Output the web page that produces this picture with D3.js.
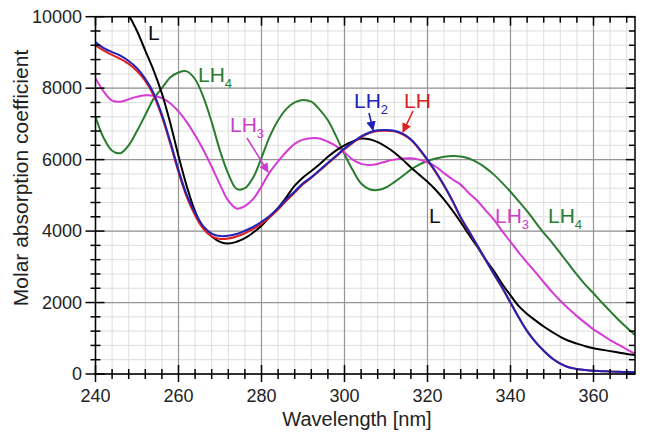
<!DOCTYPE html>
<html><head><meta charset="utf-8">
<script src="https://cdn.jsdelivr.net/npm/d3@7"></script>
<style>body{margin:0;background:#fff}svg{display:block}text{font-family:"Liberation Sans",Arial,sans-serif}</style>
</head><body><svg id="c" width="645" height="435"></svg>
<script>
const wavelengths = [240,242,244,246,248,250,252,254,256,258,260,262,264,266,268,270,272,274,276,278,280,282,284,286,288,290,292,294,296,298,300,302,304,306,308,310,312,314,316,318,320,322,324,326,328,330,332,334,336,338,340,342,344,346,348,350,352,354,356,358,360,362,364,366,368,370];
const seriesL   = [11600,11200,10800,10450,10050,9600,9050,8500,7850,7030,6100,5250,4550,4080,3850,3700,3650,3700,3800,3960,4150,4400,4650,4950,5270,5500,5680,5870,6080,6260,6400,6510,6590,6570,6490,6360,6200,6000,5780,5580,5380,5150,4880,4580,4250,3900,3560,3200,2880,2520,2200,1900,1680,1500,1330,1180,1040,930,850,780,720,680,640,600,560,530];
const seriesLH  = [9200,9050,8930,8820,8680,8480,8200,7800,7200,6450,5650,4950,4440,4060,3850,3780,3790,3850,3940,4060,4210,4390,4600,4850,5080,5310,5490,5690,5890,6090,6290,6470,6630,6740,6800,6810,6790,6710,6550,6290,5980,5640,5260,4840,4370,3980,3590,3190,2790,2410,1990,1580,1200,900,650,440,290,190,140,110,90,80,70,60,55,50];
const seriesLH2 = [9280,9120,9010,8910,8760,8560,8260,7860,7260,6510,5710,5010,4510,4130,3930,3860,3870,3920,4010,4120,4260,4430,4640,4890,5110,5340,5510,5710,5910,6110,6310,6490,6650,6760,6820,6830,6810,6730,6570,6310,6000,5660,5280,4860,4390,4000,3600,3200,2800,2420,2000,1580,1200,900,650,440,290,190,140,110,90,80,70,60,55,50];
const seriesLH3 = [8280,7900,7650,7620,7690,7760,7800,7790,7720,7580,7350,7050,6680,6270,5800,5300,4850,4630,4700,4900,5250,5650,5950,6220,6440,6560,6600,6590,6500,6380,6200,6000,5880,5850,5880,5950,6000,6030,6040,6000,5920,5800,5620,5450,5300,5060,4850,4580,4320,4000,3700,3400,3120,2850,2570,2300,2050,1830,1620,1430,1250,1100,950,820,690,560];
const seriesLH4 = [7200,6600,6250,6180,6400,6800,7250,7700,8000,8300,8440,8470,8250,7750,7050,6250,5600,5180,5200,5500,6050,6650,7100,7420,7600,7670,7620,7400,7100,6650,6150,5700,5330,5170,5150,5220,5370,5540,5720,5860,5960,6030,6080,6100,6090,6030,5920,5770,5580,5350,5100,4830,4560,4250,3950,3680,3380,3080,2780,2500,2260,2000,1760,1520,1300,1090];
const xTicks = [240,260,280,300,320,340,360];
const yTicks = [0,2000,4000,6000,8000,10000];
const xLabel = "Wavelength [nm]";
const yLabel = "Molar absorption coefficient";

const svg = d3.select("#c");
const L = 95.5, R = 635, T = 16.7, B = 374;
const x = d3.scaleLinear().domain([240,370]).range([L,R]);
const y = d3.scaleLinear().domain([0,10000]).range([B,T]);

// grid
const minorX = d3.range(240,371,4), minorY = d3.range(0,10001,400);
const g = svg.append("g");
g.selectAll(".mx").data(minorX).enter().append("line")
  .attr("x1",d=>x(d)).attr("x2",d=>x(d)).attr("y1",T).attr("y2",B)
  .attr("stroke","#dedede").attr("stroke-width",1);
g.selectAll(".my").data(minorY).enter().append("line")
  .attr("y1",d=>y(d)).attr("y2",d=>y(d)).attr("x1",L).attr("x2",R)
  .attr("stroke","#dedede").attr("stroke-width",1);
g.selectAll(".Mx").data(xTicks).enter().append("line")
  .attr("x1",d=>x(d)).attr("x2",d=>x(d)).attr("y1",T).attr("y2",B)
  .attr("stroke","#959595").attr("stroke-width",1.2);
g.selectAll(".My").data(yTicks).enter().append("line")
  .attr("y1",d=>y(d)).attr("y2",d=>y(d)).attr("x1",L).attr("x2",R)
  .attr("stroke","#959595").attr("stroke-width",1.2);

// curves
svg.append("clipPath").attr("id","clip").append("rect").attr("x",L).attr("y",T).attr("width",R-L).attr("height",B-T);
const line = d3.line().x((d,i)=>x(wavelengths[i])).y(d=>y(d)).curve(d3.curveCatmullRom);
const series = [
  {v:seriesLH4,c:"#2a7d2e"},
  {v:seriesLH3,c:"#d63ad6"},
  {v:seriesL,c:"#000000"},
  {v:seriesLH,c:"#dd2020"},
  {v:seriesLH2,c:"#2222b8"}
];
const cg = svg.append("g").attr("clip-path","url(#clip)");
series.forEach(s=>{
  cg.append("path").attr("d",line(s.v)).attr("fill","none").attr("stroke",s.c).attr("stroke-width",2);
});

// frame and ticks
svg.append("rect").attr("x",L).attr("y",T).attr("width",R-L).attr("height",B-T).attr("fill","none").attr("stroke","#000").attr("stroke-width",1.5);
const minorXT = minorX.filter(d=>d%20!==0), minorYT = minorY.filter(d=>d%2000!==0);
const tk = svg.append("g").attr("stroke","#000").attr("stroke-width",1.5);
xTicks.forEach(d=>tk.append("line").attr("x1",x(d)).attr("x2",x(d)).attr("y1",B-9).attr("y2",B+8));
minorXT.forEach(d=>tk.append("line").attr("x1",x(d)).attr("x2",x(d)).attr("y1",B-5).attr("y2",B+5));
xTicks.forEach(d=>tk.append("line").attr("x1",x(d)).attr("x2",x(d)).attr("y1",T).attr("y2",T+9));
minorXT.forEach(d=>tk.append("line").attr("x1",x(d)).attr("x2",x(d)).attr("y1",T).attr("y2",T+6));
yTicks.forEach(d=>tk.append("line").attr("y1",y(d)).attr("y2",y(d)).attr("x1",L-10).attr("x2",L+9));
minorYT.forEach(d=>tk.append("line").attr("y1",y(d)).attr("y2",y(d)).attr("x1",L-5).attr("x2",L+5));
yTicks.forEach(d=>tk.append("line").attr("y1",y(d)).attr("y2",y(d)).attr("x1",R-9).attr("x2",R));
minorYT.forEach(d=>tk.append("line").attr("y1",y(d)).attr("y2",y(d)).attr("x1",R-6).attr("x2",R));

// tick labels
svg.selectAll(".xl").data(xTicks).enter().append("text")
  .attr("x",d=>x(d)).attr("y",402).attr("text-anchor","middle").attr("font-size",18).attr("fill","#222").text(d=>d);
svg.selectAll(".yl").data(yTicks).enter().append("text")
  .attr("x",82).attr("y",d=>y(d)+6).attr("text-anchor","end").attr("font-size",18).attr("fill","#222").text(d=>d);
svg.append("text").attr("x",357).attr("y",426).attr("text-anchor","middle").attr("font-size",20).attr("fill","#222").text(xLabel);
svg.append("text").attr("transform","translate(28,178) rotate(-90)").attr("text-anchor","middle").attr("font-size",21).attr("fill","#222").text(yLabel);

// annotations
function lab(xp,yp,main,sub,color){
  const t = svg.append("text").attr("x",xp).attr("y",yp).attr("font-size",21).attr("fill",color);
  t.append("tspan").text(main);
  if(sub) t.append("tspan").attr("font-size",13).attr("dy",6).text(sub);
}
lab(148,40,"L","","#111");
lab(198,82,"LH","4","#2a7d2e");
lab(230,132,"LH","3","#cc3fcc");
lab(354,108,"LH","2","#2222b8");
lab(404,108,"LH","","#dd2020");
lab(429,223,"L","","#111");
lab(495,223,"LH","3","#cc3fcc");
lab(548,223,"LH","4","#2a7d2e");

svg.append("defs").selectAll("marker").data([["mM","#cc3fcc"],["mB","#2222b8"],["mR","#dd2020"]]).enter().append("marker")
  .attr("id",d=>d[0]).attr("viewBox","0 0 10 10").attr("refX",9).attr("refY",5).attr("markerWidth",6).attr("markerHeight",6).attr("orient","auto")
  .append("path").attr("d","M0,0L10,5L0,10z").attr("fill",d=>d[1]);
function arrow(x1,y1,x2,y2,id,color){
  svg.append("line").attr("x1",x1).attr("y1",y1).attr("x2",x2).attr("y2",y2).attr("stroke",color).attr("stroke-width",1.6).attr("marker-end","url(#"+id+")");
}
arrow(247,138,268,172,"mM","#cc3fcc");
arrow(369,113,373,130,"mB","#2222b8");
arrow(413,111,403,132,"mR","#dd2020");
</script></body></html>
